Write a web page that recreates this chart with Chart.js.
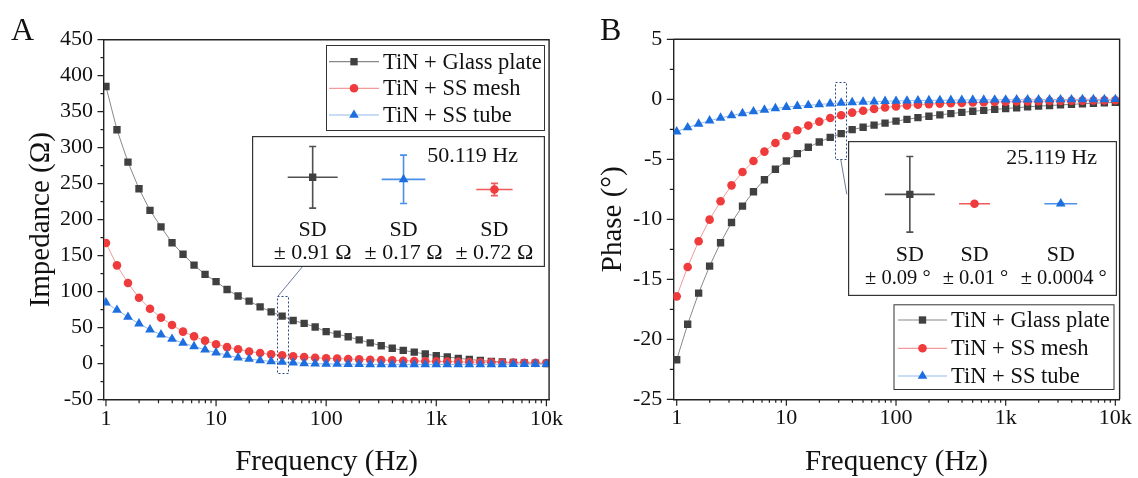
<!DOCTYPE html>
<html>
<head>
<meta charset="utf-8">
<script src="https://cdn.jsdelivr.net/npm/chart.js@4.4.1/dist/chart.umd.min.js"></script>
<style>
  html, body { margin: 0; padding: 0; background: #fff; }
  #wrap { position: relative; width: 1138px; height: 478px; overflow: hidden; font-family: "Liberation Serif", "Times New Roman", serif; }
  #wrap canvas { position: absolute; }
  .panel { position: absolute; font-size: 32px; line-height: 1; color: #111; }
</style>
</head>
<body>
<div id="wrap">
  <canvas id="chartA" width="569" height="478" style="left:0;top:0;width:569px;height:478px"></canvas>
  <canvas id="chartB" width="569" height="478" style="left:569px;top:0;width:569px;height:478px"></canvas>
  <canvas id="insetA" width="293" height="131" style="left:252px;top:136px;width:293px;height:131px"></canvas>
  <canvas id="insetB" width="269" height="155" style="left:848px;top:141px;width:269px;height:155px"></canvas>
  <div class="panel" style="left:11px;top:13px">A</div>
  <div class="panel" style="left:600px;top:13px">B</div>
</div>
<script>
// ====== DATA ======
const freqHz = [
  1, 1.2589, 1.5849, 1.9953, 2.5119, 3.1623, 3.9811, 5.0119, 6.3096, 7.9433,
  10, 12.589, 15.849, 19.953, 25.119, 31.623, 39.811, 50.119, 63.096, 79.433,
  100, 125.89, 158.49, 199.53, 251.19, 316.23, 398.11, 501.19, 630.96, 794.33,
  1000, 1258.9, 1584.9, 1995.3, 2511.9, 3162.3, 3981.1, 5011.9, 6309.6, 7943.3,
  10000
];
const seriesNames = ['TiN + Glass plate', 'TiN + SS mesh', 'TiN + SS tube'];

// impedance (ohm)
const impGlass = [385, 325, 280, 243, 213, 190, 168, 152, 137, 124,
  114, 103, 94, 87, 79, 72, 66, 60, 56, 51,
  44.5, 41, 37.5, 33, 29, 25, 21.5, 18.5, 16, 13.5,
  11, 9.3, 7.4, 6, 4.4, 3.3, 2.4, 1.6, 1.1, 0.6, 0.3];
const impMesh = [167.6, 136.6, 112, 91.5, 76.4, 64, 53.7, 44.6, 38, 32,
  27, 23, 20, 17, 14.8, 13, 11.6, 10.2, 9.3, 8.3,
  7.5, 7, 6.5, 6, 5.5, 5, 4.6, 4.2, 3.8, 3.5,
  3.2, 2.9, 2.6, 2.3, 2.1, 1.9, 1.7, 1.5, 1.3, 1.1, 1.0];
const impTube = [84.7, 74.5, 64.8, 55.6, 47.2, 40.3, 34.3, 28.7, 24.1, 19.4,
  15.3, 12, 8.3, 6.5, 4.6, 3.2, 2.3, 1.4, 0.5, 0,
  -0.3, -0.5, -0.7, -0.8, -0.9, -1, -1, -1, -1.1, -1.1,
  -1.1, -1.1, -1, -1, -1, -0.9, -0.9, -0.8, -0.8, -0.7, -0.7];

// phase (degree)
const phaseGlass = [-21.7, -18.75, -16.15, -13.9, -11.95, -10.27, -8.9, -7.7, -6.7, -5.83,
  -5.14, -4.53, -4.0, -3.56, -3.17, -2.86, -2.53, -2.33, -2.15, -1.98,
  -1.82, -1.67, -1.53, -1.41, -1.3, -1.19, -1.09, -1.0, -0.92, -0.84,
  -0.77, -0.7, -0.63, -0.57, -0.52, -0.47, -0.42, -0.37, -0.33, -0.29, -0.26];
const phaseMesh = [-16.42, -13.97, -11.83, -10.03, -8.5, -7.17, -6.06, -5.14, -4.36, -3.64,
  -3.06, -2.58, -2.19, -1.86, -1.56, -1.33, -1.11, -0.95, -0.8, -0.68,
  -0.59, -0.51, -0.45, -0.4, -0.36, -0.33, -0.3, -0.27, -0.25, -0.23,
  -0.21, -0.19, -0.17, -0.16, -0.14, -0.13, -0.12, -0.11, -0.1, -0.09, -0.08];
const phaseTube = [-2.7, -2.35, -2.05, -1.78, -1.55, -1.35, -1.17, -1.02, -0.88, -0.76,
  -0.65, -0.57, -0.5, -0.43, -0.36, -0.3, -0.26, -0.22, -0.19, -0.16,
  -0.14, -0.12, -0.1, -0.09, -0.08, -0.07, -0.06, -0.05, -0.05, -0.04,
  -0.04, -0.03, -0.03, -0.03, -0.02, -0.02, -0.02, -0.01, -0.01, -0.01, 0];

const freqTickLabels = { 1: '1', 10: '10', 100: '100', 1000: '1k', 10000: '10k' };

// insets: series index, slot, level, error (inset units)
const insetAText = '50.119 Hz';
const insetASeries = [0, 2, 1];
const insetASlot = [1, 2, 3];
const insetALevel = [7.02, 6.85, 6.0];
const insetAErrY = [2.57, 2.02, 0.51];
const insetAErrX = [0.275, 0.24, 0.2];
const insetASD = ['± 0.91 Ω', '± 0.17 Ω', '± 0.72 Ω'];

const insetBText = '25.119 Hz';
const insetBSeries = [0, 1, 2];
const insetBSlot = [1, 1.75, 2.75];
const insetBLevel = [6.68, 6.03, 6.03];
const insetBErrY = [2.63, 0.11, 0.02];
const insetBErrX = [0.29, 0.18, 0.19];
const insetBSD = ['± 0.09 °', '± 0.01 °', '± 0.0004 °'];

// ====== STYLE ======
const FONT = '"Liberation Serif", "Times New Roman", serif';
const INK = '#111';
const STYLE = [
  { color: '#404040', line: '#888888', bar: '#505050', pointStyle: 'rect',     radius: 5.2, order: 3 },
  { color: '#ef3b3b', line: '#f29b9b', bar: '#f05a5a', pointStyle: 'circle',   radius: 4.3, order: 2 },
  { color: '#1d6fe0', line: '#92b9ef', bar: '#4a8fe8', pointStyle: 'triangle', radius: 5.6, order: 1 },
];

// ====== HELPERS ======
function drawMarker(ctx, st, x, y){
  const r = st.radius;
  ctx.save();
  ctx.fillStyle = st.color;
  ctx.beginPath();
  if (st.pointStyle === 'rect'){
    const s = r * Math.SQRT1_2;
    ctx.rect(x - s, y - s, 2*s, 2*s);
  } else if (st.pointStyle === 'circle'){
    ctx.arc(x, y, r, 0, Math.PI*2);
  } else {
    ctx.moveTo(x, y - r);
    ctx.lineTo(x + r*0.866, y + r*0.5);
    ctx.lineTo(x - r*0.866, y + r*0.5);
    ctx.closePath();
  }
  ctx.fill();
  ctx.restore();
}

function logTickValues(){
  const vals = [];
  for (let k = 0; k <= 4; k++){
    const base = Math.pow(10, k);
    for (let d = 1; d <= 9; d++){
      if (k === 4 && d > 1) break;
      vals.push(d * base);
    }
  }
  return vals;
}

// ====== PLUGINS ======
const axisDecor = {
  id: 'axisDecor',
  afterDatasetsDraw(chart){
    const o = chart.options.plugins.axisDecor;
    const {ctx, scales: {x, y}} = chart;
    // dashed selection box + connector
    const x0 = x.getPixelForValue(o.box.f0), x1 = x.getPixelForValue(o.box.f1);
    const y0 = y.getPixelForValue(o.box.v0), y1 = y.getPixelForValue(o.box.v1);
    ctx.save();
    ctx.strokeStyle = '#6a7a9a';
    ctx.lineWidth = 1;
    ctx.beginPath();
    ctx.moveTo(x.getPixelForValue(o.link.f0), y.getPixelForValue(o.link.v0));
    ctx.lineTo(x.getPixelForValue(o.link.f1), y.getPixelForValue(o.link.v1));
    ctx.stroke();
    ctx.strokeStyle = '#2b4a85';
    ctx.setLineDash([2, 2]);
    ctx.strokeRect(Math.round(x0)+0.5, Math.round(y0)+0.5, Math.round(x1-x0), Math.round(y1-y0));
    ctx.restore();
  },
  afterDraw(chart){
    const o = chart.options.plugins.axisDecor;
    const {ctx, chartArea: a, scales: {x, y}} = chart;
    ctx.save();
    ctx.strokeStyle = '#222';
    ctx.lineWidth = 1.4;
    ctx.beginPath();
    ctx.moveTo(a.left, a.top); ctx.lineTo(a.right, a.top); ctx.lineTo(a.right, a.bottom);
    ctx.stroke();
    // ticks
    ctx.lineWidth = 1.2;
    ctx.beginPath();
    x.ticks.forEach(t => {
      const px = x.getPixelForValue(t.value);
      const major = freqTickLabels[t.value] !== undefined;
      ctx.moveTo(px, a.bottom);
      ctx.lineTo(px, a.bottom + (major ? 6.5 : 3.5));
    });
    const half = o.step / 2;
    for (let v = y.min; v <= y.max + 1e-9; v += half){
      const py = y.getPixelForValue(v);
      const major = Math.abs(Math.round((v - y.min) / o.step) * o.step - (v - y.min)) < 1e-9;
      ctx.moveTo(a.left, py);
      ctx.lineTo(a.left - (major ? 6.5 : 3.5), py);
    }
    ctx.stroke();
    // legend
    const L = o.legend;
    ctx.lineWidth = 1;
    ctx.strokeStyle = '#333';
    ctx.fillStyle = '#fff';
    ctx.fillRect(L.left, L.top, L.right - L.left, L.bottom - L.top);
    ctx.strokeRect(L.left + 0.5, L.top + 0.5, L.right - L.left, L.bottom - L.top);
    ctx.font = '22.5px ' + FONT;
    ctx.textBaseline = 'middle';
    ctx.textAlign = 'left';
    seriesNames.forEach((name, i) => {
      const ry = L.rows[i];
      ctx.strokeStyle = STYLE[i].line;
      ctx.lineWidth = 1.2;
      ctx.beginPath(); ctx.moveTo(L.lineX0, ry); ctx.lineTo(L.lineX1, ry); ctx.stroke();
      drawMarker(ctx, STYLE[i], (L.lineX0 + L.lineX1) / 2, ry);
      ctx.fillStyle = INK;
      ctx.fillText(name, L.textX, ry + 1);
    });
    ctx.restore();
  }
};

const insetDecor = {
  id: 'insetDecor',
  beforeDraw(chart){
    const {ctx, width, height} = chart;
    ctx.save();
    ctx.fillStyle = '#fff';
    ctx.fillRect(0, 0, width, height);
    ctx.restore();
  },
  beforeDatasetsDraw(chart){
    const {ctx, scales: {x, y}} = chart;
    ctx.save();
    chart.data.datasets.forEach(ds => {
      const p = ds.data[0];
      const cx = x.getPixelForValue(p.x), cy = y.getPixelForValue(p.y);
      const ty = y.getPixelForValue(p.y + ds.errY), by = y.getPixelForValue(p.y - ds.errY);
      const lx = x.getPixelForValue(p.x - ds.errX), rx = x.getPixelForValue(p.x + ds.errX);
      ctx.strokeStyle = ds.barColor;
      ctx.lineWidth = 1.6;
      ctx.beginPath();
      ctx.moveTo(lx, cy); ctx.lineTo(rx, cy);
      ctx.moveTo(cx, ty); ctx.lineTo(cx, by);
      ctx.moveTo(cx - 3.5, ty); ctx.lineTo(cx + 3.5, ty);
      ctx.moveTo(cx - 3.5, by); ctx.lineTo(cx + 3.5, by);
      ctx.stroke();
    });
    ctx.restore();
  },
  afterDraw(chart){
    const o = chart.options.plugins.insetDecor;
    const {ctx, width, height, scales: {x}} = chart;
    ctx.save();
    ctx.strokeStyle = '#333';
    ctx.lineWidth = 1.2;
    ctx.strokeRect(0.6, 0.6, width - 1.2, height - 1.2);
    ctx.fillStyle = INK;
    ctx.font = '22px ' + FONT;
    ctx.textBaseline = 'middle';
    ctx.textAlign = 'right';
    ctx.fillText(o.title, width - o.titleRight, o.titleY);
    ctx.textAlign = 'center';
    chart.data.datasets.forEach((ds, k) => {
      const px = x.getPixelForValue(ds.data[0].x);
      ctx.font = '22px ' + FONT;
      ctx.fillText('SD', px, height - o.sdY);
      ctx.font = o.pmSize + 'px ' + FONT;
      ctx.fillText(o.sd[k], px + o.pmShift[k], height - o.pmY);
    });
    ctx.restore();
  }
};

// ====== CHARTS ======
function makeMain(id, p){
  const datasets = p.values.map((vals, i) => ({
    label: seriesNames[i],
    data: freqHz.map((f, k) => ({ x: f, y: vals[k] })),
    borderColor: STYLE[i].line,
    borderWidth: 1,
    backgroundColor: STYLE[i].color,
    pointStyle: STYLE[i].pointStyle,
    pointRadius: STYLE[i].radius,
    pointBackgroundColor: STYLE[i].color,
    pointBorderColor: STYLE[i].color,
    pointBorderWidth: 0,
    tension: 0,
    order: STYLE[i].order
  }));
  return new Chart(document.getElementById(id), {
    type: 'line',
    data: { datasets },
    options: {
      responsive: false,
      animation: false,
      events: [],
      layout: { padding: { left: 0, top: p.top, right: p.right, bottom: 0 } },
      scales: {
        x: {
          type: 'logarithmic',
          min: p.xMin, max: p.xMax,
          afterFit: s => { s.height = 478 - p.bottom; },
          afterBuildTicks: s => { s.ticks = logTickValues().map(v => ({ value: v })); },
          ticks: {
            autoSkip: false, maxRotation: 0, minRotation: 0, padding: 6,
            color: INK, font: { family: FONT, size: 22 },
            callback: v => freqTickLabels[v] ?? ''
          },
          grid: { display: false, drawTicks: false },
          border: { display: true, color: '#222', width: 1.4 },
          title: { display: true, text: 'Frequency (Hz)', color: INK,
                   font: { family: FONT, size: 29, lineHeight: 1 }, padding: { top: 0, bottom: 1 } }
        },
        y: {
          min: p.yMin, max: p.yMax,
          afterFit: s => { s.width = p.left; },
          ticks: { stepSize: p.step, padding: 11, color: INK, font: { family: FONT, size: 22 },
                   callback: v => String(v) },
          grid: { display: false, drawTicks: false },
          border: { display: true, color: '#222', width: 1.4 },
          title: { display: true, text: p.yTitle, color: INK,
                   font: { family: FONT, size: 29, lineHeight: 1 }, padding: { top: p.yTitlePad, bottom: 0 } }
        }
      },
      plugins: {
        legend: { display: false },
        tooltip: { enabled: false },
        axisDecor: { step: p.step, legend: p.legend, box: p.box, link: p.link }
      }
    },
    plugins: [axisDecor]
  });
}

function makeInset(id, q){
  const datasets = q.series.map((si, k) => ({
    label: seriesNames[si],
    data: [{ x: q.slot[k], y: q.level[k] }],
    errY: q.errY[k], errX: q.errX[k], barColor: STYLE[si].bar,
    pointStyle: STYLE[si].pointStyle,
    pointRadius: STYLE[si].radius,
    backgroundColor: STYLE[si].color,
    borderColor: STYLE[si].color,
    borderWidth: 0
  }));
  return new Chart(document.getElementById(id), {
    type: 'scatter',
    data: { datasets },
    options: {
      responsive: false, animation: false, events: [],
      layout: { padding: 0 },
      scales: {
        x: { type: 'linear', display: false, min: q.xMin, max: q.xMax },
        y: { type: 'linear', display: false, min: 0, max: 10 }
      },
      plugins: {
        legend: { display: false }, tooltip: { enabled: false },
        insetDecor: { title: q.title, sd: q.sd, titleRight: q.titleRight, titleY: q.titleY,
                      sdY: q.sdY, pmY: q.pmY, pmShift: q.pmShift, pmSize: q.pmSize }
      }
    },
    plugins: [insetDecor]
  });
}

makeMain('chartA', {
  values: [impGlass, impMesh, impTube],
  left: 104, right: 19, top: 39.7, bottom: 399.7,
  xMin: 0.96, xMax: 10580,
  yMin: -50, yMax: 450, step: 50,
  yTitle: 'Impedance (Ω)', yTitlePad: 27,
  legend: { left: 326, right: 544, top: 45, bottom: 130, rows: [61.7, 88.3, 115], lineX0: 329, lineX1: 379, textX: 383 },
  box: { f0: 36.1, f1: 45.1, v0: 94, v1: -13.3 },
  link: { f0: 36.6, v0: 94, f1: 60.9, v1: 134.7 }
});

makeMain('chartB', {
  values: [phaseGlass, phaseMesh, phaseTube],
  left: 104.3, right: 17, top: 39.3, bottom: 399.3,
  xMin: 0.931, xMax: 10940,
  yMin: -25, yMax: 5, step: 5,
  yTitle: 'Phase (°)', yTitlePad: 30,
  legend: { left: 324.5, right: 544.5, top: 304.3, bottom: 389, rows: [320, 348.3, 376], lineX0: 329, lineX1: 378, textX: 382 },
  box: { f0: 27.7, f1: 35.1, v0: 1.42, v1: -5.0 },
  link: { f0: 31.3, v0: -5.0, f1: 35.6, v1: -7.92 }
});

makeInset('insetA', {
  series: insetASeries, slot: insetASlot, level: insetALevel, errY: insetAErrY, errX: insetAErrX,
  sd: insetASD, title: insetAText,
  xMin: 0.394, xMax: 3.495, titleRight: 27, titleY: 20, sdY: 37, pmY: 14, pmShift: [0, 0, 0], pmSize: 22
});

makeInset('insetB', {
  series: insetBSeries, slot: insetBSlot, level: insetBLevel, errY: insetBErrY, errX: insetBErrX,
  sd: insetBSD, title: insetBText,
  xMin: 0.348, xMax: 3.337, titleRight: 20, titleY: 17.5, sdY: 41, pmY: 17, pmShift: [-12, 1, 3], pmSize: 20.5
});
</script>
</body>
</html>
